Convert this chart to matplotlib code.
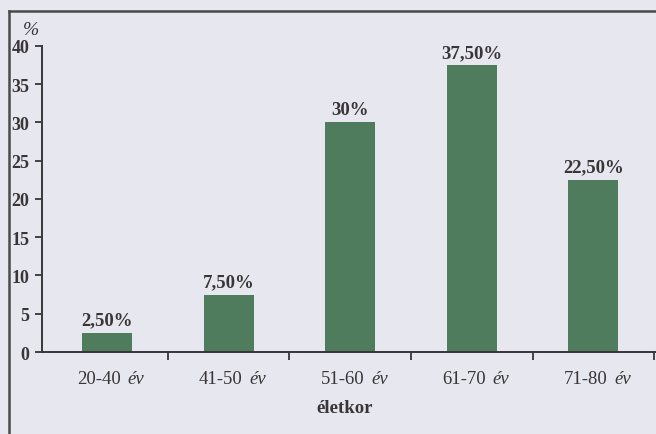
import matplotlib.pyplot as plt
from matplotlib.lines import Line2D

# age groups and share of patients (%)
groups = ["20-40", "41-50", "51-60", "61-70", "71-80"]
shares = [2.5, 7.5, 30.0, 37.5, 22.5]
share_labels = ["2,50%", "7,50%", "30%", "37,50%", "22,50%"]
yticks = [0, 5, 10, 15, 20, 25, 30, 35, 40]

plt.rcParams["font.family"] = ["Liberation Serif", "DejaVu Serif"]

bg = "#e6e7ef"
ink = "#3a3536"
green = "#4f7c5d"

fig = plt.figure(figsize=(6.56, 4.35), dpi=100, facecolor=bg)
ax = fig.add_axes([0.064, 0.1885, 0.935, 0.7035])
ax.set_facecolor(bg)

x = range(len(groups))
ax.bar(x, shares, width=0.41, color=green, zorder=2)

for i, (v, lab) in enumerate(zip(shares, share_labels)):
    ax.annotate(lab, (i, v), xytext=(0, 3), textcoords="offset points",
                ha="center", va="bottom", fontsize=13.5, fontweight="bold",
                color=ink)

ax.set_xlim(-0.535, 4.51)
ax.set_ylim(0, 40)

ax.set_yticks(yticks)
ax.set_yticklabels([str(t) for t in yticks], fontsize=13, fontweight="bold",
                   color=ink)
ax.set_xticks([i + 0.5 for i in range(len(groups))])
ax.set_xticklabels([])
ax.tick_params(axis="y", direction="out", length=5, width=1.3, color=ink,
               pad=4)
ax.tick_params(axis="x", direction="out", length=6, width=1.3, color=ink)

for s in ["top", "right"]:
    ax.spines[s].set_visible(False)
for s in ["left", "bottom"]:
    ax.spines[s].set_color(ink)
    ax.spines[s].set_linewidth(1.4)

# category labels: number upright, "év" in italics
for i, g in enumerate(groups):
    ax.annotate(g, (i, 0), xytext=(10, -13), textcoords="offset points",
                ha="right", va="top", fontsize=13.5, color=ink,
                annotation_clip=False)
    ax.annotate("év", (i, 0), xytext=(15, -13), textcoords="offset points",
                ha="left", va="top", fontsize=13.5, style="italic", color=ink,
                annotation_clip=False)

fig.text(0.048, 0.93, "%", ha="center", va="center", fontsize=14,
         style="italic", color=ink)
fig.text(0.525, 0.062, "életkor", ha="center", va="center", fontsize=13.5,
         fontweight="bold", color=ink)

# frame around the figure
fig.add_artist(Line2D([0.0137, 0.0137], [0.0, 0.972], color="#4a4a48",
                      lw=1.8, transform=fig.transFigure))
fig.add_artist(Line2D([0.0137, 1.0], [0.972, 0.972], color="#4a4a48",
                      lw=1.8, transform=fig.transFigure))

fig.savefig("out.png", dpi=100, facecolor=bg)
